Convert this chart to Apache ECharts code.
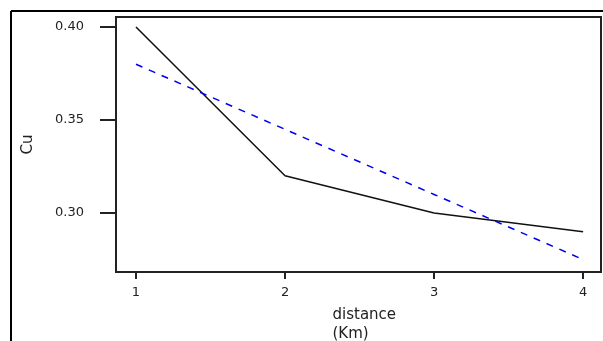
<!DOCTYPE html>
<html><head><meta charset="utf-8">
<script src="https://cdn.jsdelivr.net/npm/echarts@6/dist/echarts.min.js"></script>
<style>html,body{margin:0;padding:0;background:#fff}#c{width:603px;height:341px}</style>
</head><body><div id="c"></div>
<script>
var distance = [1, 2, 3, 4];
var cuObserved = [0.40, 0.32, 0.30, 0.29];
var cuFitted = [0.38, 0.345, 0.31, 0.275];
var xTicks = [1, 2, 3, 4];
var yTicks = [0.30, 0.35, 0.40];

function pairs(xs, ys){ return xs.map(function(x,i){ return [x, ys[i]]; }); }

var chart = echarts.init(document.getElementById('c'), null, {renderer:'canvas'});
var font = 'DejaVu Sans, sans-serif';
chart.setOption({
  animation: false,
  backgroundColor: '#fff',
  grid: {left: 116, top: 17, right: 2, bottom: 69, show: true, borderColor: '#222', borderWidth: 2, containLabel: false, outerBoundsMode: 'none'},
  xAxis: {
    type: 'value', min: 0.866, max: 4.12,
    splitLine: {show: false},
    axisLine: {show: true, onZero: false, lineStyle: {color: '#222', width: 2}},
    axisTick: {show: true, length: 7, customValues: xTicks, lineStyle: {color: '#222', width: 2}},
    axisLabel: {customValues: xTicks, margin: 14, color: '#222', fontFamily: font, fontSize: 13, formatter: function(v){ return String(Math.round(v)); }},
    name: 'distance\n(Km)', nameLocation: 'middle', nameGap: 34,
    nameTextStyle: {color: '#222', fontFamily: font, fontSize: 15, align: 'left', padding: [0,0,0,-26], lineHeight: 19}
  },
  yAxis: {
    type: 'value', min: 0.2683, max: 0.4054,
    splitLine: {show: false},
    axisLine: {show: true, onZero: false, lineStyle: {color: '#222', width: 2}},
    axisTick: {show: true, length: 16, customValues: yTicks, lineStyle: {color: '#222', width: 2}},
    axisLabel: {customValues: yTicks, margin: 32, color: '#222', fontFamily: font, fontSize: 13, formatter: function(v){ return v.toFixed(2); }},
    name: 'Cu', nameLocation: 'middle', nameGap: 80, nameRotate: 90,
    nameTextStyle: {color: '#222', fontFamily: font, fontSize: 15}
  },
  graphic: [
    {type: 'line', shape: {x1: 11, y1: 11, x2: 603, y2: 11}, style: {stroke: '#000', lineWidth: 2}},
    {type: 'line', shape: {x1: 11, y1: 11, x2: 11, y2: 341}, style: {stroke: '#000', lineWidth: 2}}
  ],
  series: [
    {type: 'line', data: pairs(distance, cuObserved), symbol: 'none', lineStyle: {color: '#111', width: 1.5}},
    {type: 'line', data: pairs(distance, cuFitted), symbol: 'none', lineStyle: {color: '#0000ee', width: 1.5, type: [7, 7]}}
  ]
});
</script></body></html>
